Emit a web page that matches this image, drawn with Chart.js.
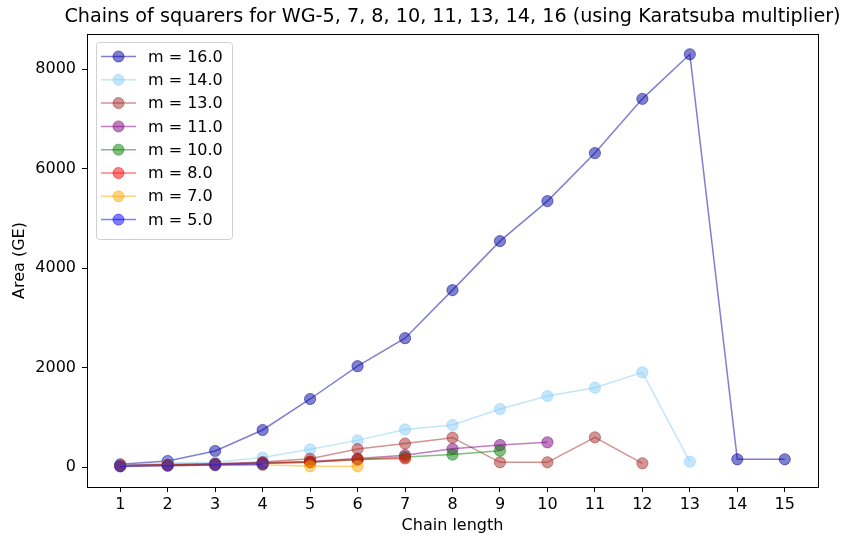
<!DOCTYPE html>
<html>
<head>
<meta charset="utf-8">
<title>Chains of squarers</title>
<script src="https://cdn.jsdelivr.net/npm/chart.js@4.4.1/dist/chart.umd.min.js"></script>
<style>
  html, body { margin: 0; padding: 0; background: #fff; }
  #wrap { width: 854px; height: 537px; }
</style>
</head>
<body>
<div id="wrap"><canvas id="squarerChart" width="854" height="537"></canvas></div>
<script>
// ---- data ----------------------------------------------------------------
const chainLengths = [1, 2, 3, 4, 5, 6, 7, 8, 9, 10, 11, 12, 13, 14, 15];
const xTicks = [1, 2, 3, 4, 5, 6, 7, 8, 9, 10, 11, 12, 13, 14, 15];
const yTicks = [0, 2000, 4000, 6000, 8000];

const area16 = [54, 121, 322, 744, 1367, 2026, 2589, 3555, 4540, 5345, 6310, 7400, 8296, 155, 155];
const area14 = [40, 80, 95, 190, 355, 535, 755, 845, 1166, 1427, 1594, 1903, 107];
const area13 = [30, 48, 65, 100, 165, 360, 471, 590, 94, 94, 597, 74];
const area11 = [28, 45, 62, 85, 110, 170, 238, 365, 442, 496];
const area10 = [25, 40, 55, 75, 95, 150, 200, 250, 328];
const area8  = [22, 38, 50, 70, 100, 150, 172];
const area7  = [20, 28, 36, 44, 14, 14];
const area5  = [12, 25, 38, 50];

const seriesNames  = ['m = 16.0', 'm = 14.0', 'm = 13.0', 'm = 11.0', 'm = 10.0', 'm = 8.0', 'm = 7.0', 'm = 5.0'];
const seriesValues = [area16, area14, area13, area11, area10, area8, area7, area5];
const seriesColors = [
  'rgba(0, 0, 160, 0.5)',     // dark blue
  'rgba(135, 206, 250, 0.5)', // light sky blue
  'rgba(165, 42, 42, 0.5)',   // brown
  'rgba(128, 0, 128, 0.5)',   // purple
  'rgba(0, 128, 0, 0.5)',     // green
  'rgba(255, 0, 0, 0.5)',     // red
  'rgba(255, 165, 0, 0.5)',   // orange
  'rgba(0, 0, 255, 0.5)'      // blue
];

const chartTitle = 'Chains of squarers for WG-5, 7, 8, 10, 11, 13, 14, 16 (using Karatsuba multiplier)';
const FONT = "'DejaVu Sans', sans-serif";

// ---- plugins -------------------------------------------------------------
// full box around the plot area + title centred over it
const frameBox = {
  id: 'frameBox',
  afterDraw(chart) {
    const { ctx, chartArea: a } = chart;
    ctx.save();
    ctx.strokeStyle = '#000';
    ctx.lineWidth = 1;
    ctx.strokeRect(Math.round(a.left) + 0.5, Math.round(a.top) + 0.5,
                   Math.round(a.right - a.left), Math.round(a.bottom - a.top));
    ctx.fillStyle = '#000';
    ctx.font = '19.2px ' + FONT;
    ctx.textAlign = 'center';
    ctx.textBaseline = 'middle';
    ctx.fillText(chartTitle, (a.left + a.right) / 2, 17);
    ctx.restore();
  }
};

// legend box in the upper-left corner of the plot
const innerLegend = {
  id: 'innerLegend',
  afterDraw(chart) {
    const { ctx, chartArea: a } = chart;
    const x0 = a.left + 9, y0 = a.top + 8;
    const w = 136, rowH = 23.3, h = 197;
    ctx.save();
    ctx.fillStyle = 'rgba(255,255,255,0.8)';
    ctx.strokeStyle = '#d0d0d0';
    ctx.lineWidth = 1;
    ctx.beginPath();
    ctx.roundRect(x0 + 0.5, y0 + 0.5, w, h, 3);
    ctx.fill();
    ctx.stroke();

    ctx.font = '16px ' + FONT;
    ctx.textBaseline = 'middle';
    seriesNames.forEach((name, i) => {
      const cy = y0 + 14.5 + i * rowH;
      ctx.strokeStyle = seriesColors[i];
      ctx.lineWidth = 1.5;
      ctx.beginPath();
      ctx.moveTo(x0 + 5, cy);
      ctx.lineTo(x0 + 40, cy);
      ctx.stroke();
      ctx.fillStyle = seriesColors[i];
      ctx.lineWidth = 1;
      ctx.beginPath();
      ctx.arc(x0 + 22.5, cy, 5.5, 0, Math.PI * 2);
      ctx.fill();
      ctx.stroke();
      ctx.fillStyle = '#000';
      ctx.fillText(name, x0 + 52, cy + 1);
    });
    ctx.restore();
  }
};

// ---- chart ---------------------------------------------------------------
const datasets = seriesValues.map((vals, i) => ({
  label: seriesNames[i],
  data: vals.map((v, k) => ({ x: chainLengths[k], y: v })),
  borderColor: seriesColors[i],
  backgroundColor: seriesColors[i],
  borderWidth: 1.5,
  pointRadius: 5.6,
  pointBorderWidth: 1,
  pointHoverRadius: 5.6,
  tension: 0,
  order: seriesValues.length - 1 - i
}));

new Chart(document.getElementById('squarerChart'), {
  type: 'line',
  data: { datasets: datasets },
  plugins: [frameBox, innerLegend],
  options: {
    responsive: false,
    animation: false,
    devicePixelRatio: 1,
    layout: { padding: { left: 0, right: 36, top: 34, bottom: 0 } },
    plugins: {
      legend: { display: false },
      tooltip: { enabled: false },
      title: { display: false }
    },
    scales: {
      x: {
        type: 'linear',
        min: 0.3,
        max: 15.7,
        afterBuildTicks: (s) => { s.ticks = xTicks.map(v => ({ value: v })); },
        afterFit: (s) => { s.height = 50; },
        grid: { display: true, drawOnChartArea: false, tickLength: 5, color: '#000' },
        border: { display: false },
        ticks: { color: '#000', font: { family: FONT, size: 16 }, padding: 3, maxRotation: 0,
                 callback: (v) => String(v) },
        title: {
          display: true, text: 'Chain length', color: '#000',
          font: { family: FONT, size: 16 }, padding: { top: 0, bottom: 1.5 }
        }
      },
      y: {
        type: 'linear',
        min: -402,
        max: 8704,
        afterBuildTicks: (s) => { s.ticks = yTicks.map(v => ({ value: v })); },
        afterFit: (s) => { s.width = 87; },
        grid: { display: true, drawOnChartArea: false, tickLength: 5, color: '#000' },
        border: { display: false },
        ticks: { color: '#000', font: { family: FONT, size: 16 }, padding: 6,
                 callback: (v) => String(v) },
        title: {
          display: true, text: 'Area (GE)', color: '#000',
          font: { family: FONT, size: 16 }, padding: { top: 10.4, bottom: 0 }
        }
      }
    }
  }
});
</script>
</body>
</html>
